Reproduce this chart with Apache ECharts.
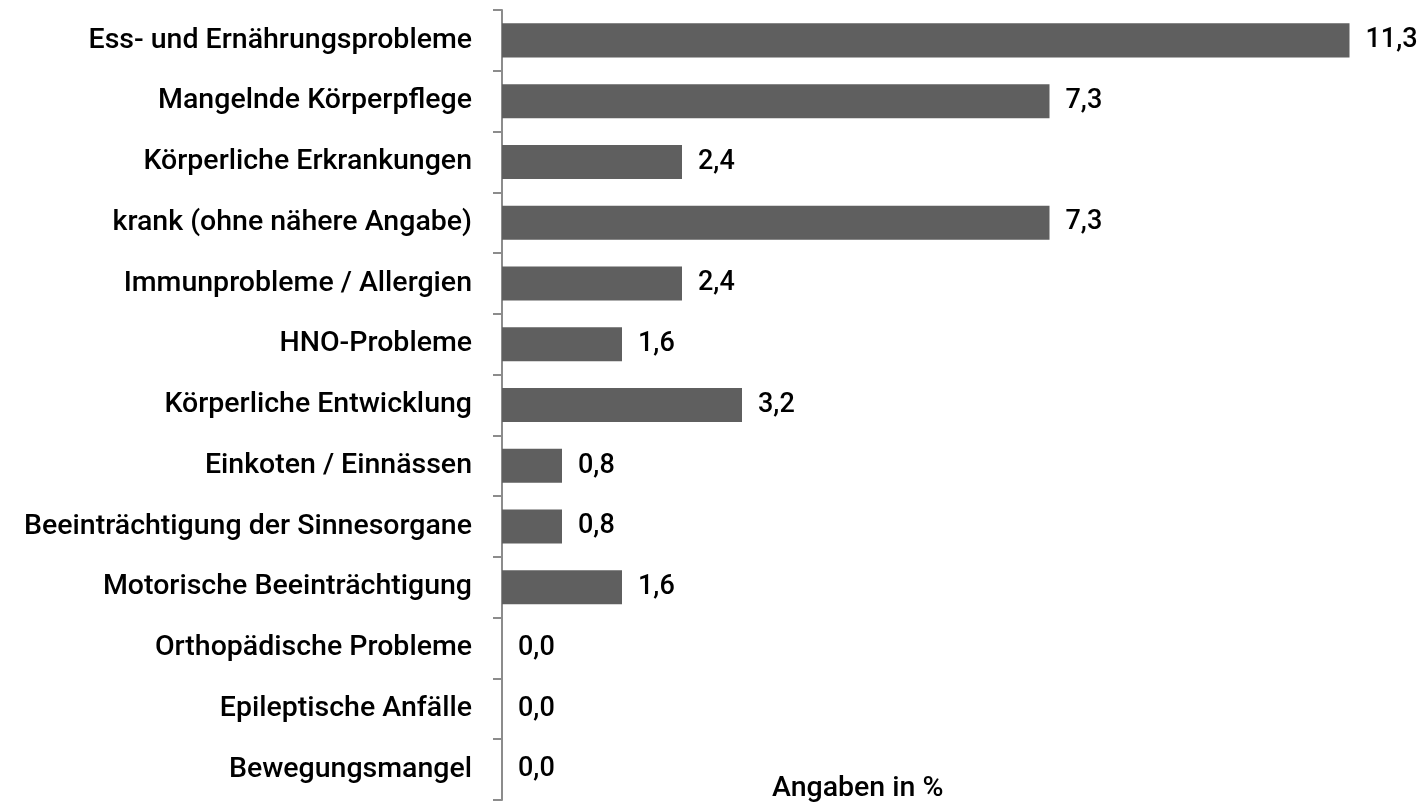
<!DOCTYPE html>
<html>
<head>
<meta charset="utf-8">
<script src="https://cdn.jsdelivr.net/npm/echarts@6/dist/echarts.min.js"></script>
<style>
  html, body { margin: 0; padding: 0; background: #fff; }
  #chart { width: 1427px; height: 805px; }
</style>
</head>
<body>
<div id="chart"></div>
<script>
// Kategorien von oben nach unten
var categories = [
	'Ess- und Ernährungsprobleme',
	'Mangelnde Körperpflege',
	'Körperliche Erkrankungen',
	'krank (ohne nähere Angabe)',
	'Immunprobleme / Allergien',
	'HNO-Probleme',
	'Körperliche Entwicklung',
	'Einkoten / Einnässen',
	'Beeinträchtigung der Sinnesorgane',
	'Motorische Beeinträchtigung',
	'Orthopädische Probleme',
	'Epileptische Anfälle',
	'Bewegungsmangel'
];
var values = [11.3, 7.3, 2.4, 7.3, 2.4, 1.6, 3.2, 0.8, 0.8, 1.6, 0.0, 0.0, 0.0];
var unitLabel = 'Angaben in %';

var myChart = echarts.init(document.getElementById('chart'));
var labelFont = 'Roboto, "Noto Sans", sans-serif';

var option = {
	animation : false,
	title : {
		text : unitLabel,
		left : 767,
		top : 769,
		textStyle : {
			fontFamily : labelFont,
			fontSize : 28.5,
			fontWeight : 500,
			color : '#000'
		}
	},
	grid : {
		left : 502,
		right : 25,
		top : 10,
		bottom : 5,
		containLabel : false
	},
	xAxis : {
		type : 'value',
		min : 0,
		max : 12,
		show : false
	},
	yAxis : {
		type : 'category',
		inverse : true,
		data : categories,
		axisLine : {
			show : true,
			lineStyle : { color : '#8c8c8c', width : 2 }
		},
		axisTick : {
			show : true,
			length : 9,
			lineStyle : { color : '#8c8c8c', width : 2 }
		},
		axisLabel : {
			margin : 30,
			fontFamily : labelFont,
			fontSize : 28.5,
			fontWeight : 500,
			color : '#000'
		}
	},
	series : [ {
		type : 'bar',
		data : values,
		barWidth : '56%',
		itemStyle : { color : '#5f5f5f' },
		label : {
			show : true,
			position : 'right',
			distance : 16,
			fontFamily : labelFont,
			fontSize : 27,
			fontWeight : 500,
			color : '#000',
			formatter : function(p) {
				return p.value.toFixed(1).replace('.', ',');
			}
		}
	} ]
};
myChart.setOption(option);
</script>
</body>
</html>
